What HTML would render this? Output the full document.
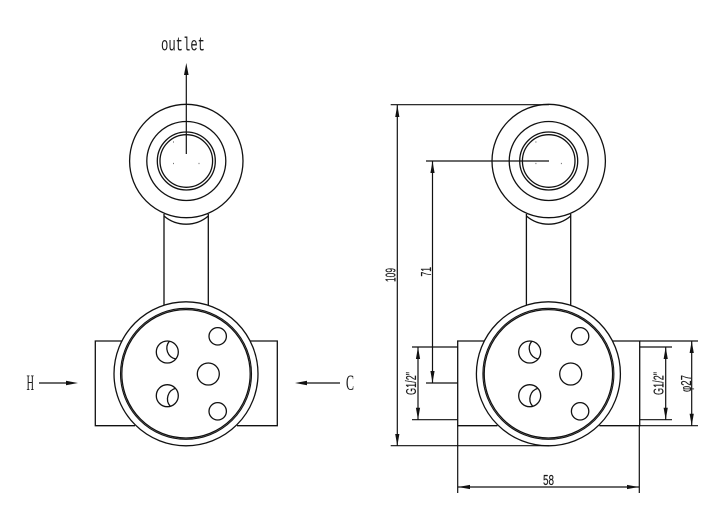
<!DOCTYPE html>
<html><head><meta charset="utf-8"><style>
html,body{margin:0;padding:0;background:#fff;width:720px;height:523px;overflow:hidden}
svg{display:block}
text{fill:#1a1a1a}
.s{font-family:"Liberation Serif",serif;font-size:22px}
.m{font-family:"Liberation Mono",monospace;font-size:19px}
.d{font-family:"Liberation Sans",sans-serif;font-size:14.500px;stroke:#1a1a1a;stroke-width:.15px}
</style></head><body>
<svg width="720" height="523" viewBox="0 0 720 523" xmlns="http://www.w3.org/2000/svg">
<defs>
<g id="part" fill="none" stroke="#111" stroke-width="1.300">
<!-- pipe -->
<path d="M164 214V309M208.300 214V309"/>
<path d="M164 216A34 34 0 0 0 208.300 216"/>
<!-- top rings -->
<circle cx="186.300" cy="161" r="56.700" fill="#fff"/>
<circle cx="186.300" cy="161" r="39.500"/>
<circle cx="186.300" cy="161" r="29"/>
<circle cx="186.300" cy="161" r="26.300"/>
<!-- side box -->
<path d="M122 341H95.300V425.700H135M250 341H277.300V425.700H237"/>
<!-- main body -->
<circle cx="186" cy="373.800" r="72" fill="#fff"/>
<circle cx="186" cy="373.800" r="65.500" stroke-width="1.100"/>
<circle cx="186" cy="373.800" r="64.200" stroke-width="1.300"/>
<!-- holes -->
<circle cx="167.300" cy="352" r="11"/>
<path d="M169.300 341.300A11 11 0 0 0 175.700 359"/>
<circle cx="167.300" cy="395.700" r="11"/>
<path d="M175.700 388.300A11 11 0 0 0 170.300 406.300"/>
<circle cx="208.300" cy="374" r="11"/>
<circle cx="217.700" cy="336.300" r="8.700"/>
<circle cx="217.700" cy="411.300" r="8.700"/>
<!-- tiny dots -->
<path d="M173 163.500h1M198.500 163.500h1M173 142h1" stroke="#777"/>
</g>
</defs>

<use href="#part"/>
<use href="#part" x="362.400"/>

<!-- left annotations -->
<g stroke="#111" stroke-width="1.200" fill="none">
<path d="M186.300 154V70"/>
<path d="M39 383H68"/>
<path d="M340 383H306"/>
</g>
<g fill="#111">
<path d="M186.300 63L184 75H188.600Z"/>
<path d="M78 383L66 380.800V385.200Z"/>
<path d="M295 383L307 380.800V385.200Z"/>
</g>
<text class="m" x="161" y="50.500" textLength="44" lengthAdjust="spacingAndGlyphs">outlet</text>
<text class="s" x="26.500" y="390" textLength="7.500" lengthAdjust="spacingAndGlyphs">H</text>
<text class="s" x="346" y="390" textLength="8" lengthAdjust="spacingAndGlyphs">C</text>

<!-- right dimensions -->
<g stroke="#111" stroke-width="1.200" fill="none">
<path d="M390.700 104.700H549M390.700 445.700H549"/>
<path d="M397.300 105V446"/>
<path d="M426 161H549"/>
<path d="M432.500 161V383M426 383H457.700"/>
<path d="M412 347H457.700M412 419.700H457.700M418 347V419.700"/>
<path d="M640 347H672M640 419.700H672M665.700 347V419.700"/>
<path d="M640 341H698M640 425.700H698M691.700 341V425.700"/>
<path d="M457.700 426V493M639.300 426V493M458 487H639"/>
</g>
<g fill="#111">
<path d="M397.300 105L395.200 117H399.400Z"/>
<path d="M397.300 446L395.200 434H399.400Z"/>
<path d="M432.500 161L430.400 173H434.600Z"/>
<path d="M432.500 383L430.400 371H434.600Z"/>
<path d="M418 347L415.900 359H420.100Z"/>
<path d="M418 419.700L415.900 407.700H420.100Z"/>
<path d="M665.700 347L663.600 359H667.800Z"/>
<path d="M665.700 419.700L663.600 407.700H667.800Z"/>
<path d="M691.700 341L689.600 353H693.800Z"/>
<path d="M691.700 425.700L689.600 413.700H693.800Z"/>
<path d="M458 487L470 484.900V489.100Z"/>
<path d="M639 487L627 484.900V489.100Z"/>
</g>
<text class="d" x="543" y="485" textLength="11" lengthAdjust="spacingAndGlyphs">58</text>
<text class="d" transform="translate(395.500,282) rotate(-90)" textLength="14" lengthAdjust="spacingAndGlyphs">109</text>
<text class="d" transform="translate(431,276.500) rotate(-90)" textLength="9.500" lengthAdjust="spacingAndGlyphs">71</text>
<text class="d" transform="translate(416,395) rotate(-90)" textLength="23" lengthAdjust="spacingAndGlyphs">G1/2"</text>
<text class="d" transform="translate(663.500,395) rotate(-90)" textLength="23" lengthAdjust="spacingAndGlyphs">G1/2"</text>
<text class="d" transform="translate(691,392) rotate(-90)" textLength="17" lengthAdjust="spacingAndGlyphs">φ27</text>
</svg>
</body></html>
